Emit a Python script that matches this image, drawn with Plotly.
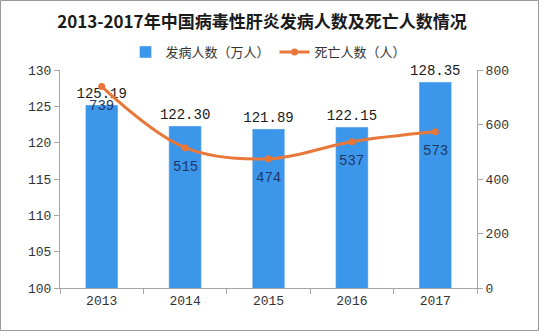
import plotly.graph_objects as go

years = ["2013", "2014", "2015", "2016", "2017"]
cases = [125.19, 122.30, 121.89, 122.15, 128.35]
deaths = [739, 515, 474, 537, 573]

W, H = 540, 332
ml, mr, mt, mb = 60, 63, 70, 44
pw, ph = W - ml - mr, H - mt - mb

num_font = "Liberation Mono, Noto Sans CJK SC"

fig = go.Figure()
fig.add_trace(go.Bar(
    x=years, y=cases, name="发病人数（万人）",
    marker=dict(color="#3C96EA"),
    width=0.39,
    text=[f"{v:.2f}" for v in cases], textposition="outside",
    constraintext="none",
    textfont=dict(family=num_font, size=14, color="#1a1a1a"),
    cliponaxis=False,
))
fig.add_trace(go.Scatter(
    x=years, y=deaths, name="死亡人数（人）", yaxis="y2",
    mode="lines+markers",
    line=dict(color="#E8773A", width=3, shape="spline"),
    marker=dict(color="#E8773A", size=7),
    cliponaxis=False,
))
for i, d in enumerate(deaths):
    fig.add_annotation(x=i, y=d, xref="x", yref="y2", text=str(d), showarrow=False,
                       yshift=-19, font=dict(family=num_font, size=14, color="#1F3767"))

fig.update_layout(
    width=W, height=H,
    margin=dict(l=ml, r=mr, t=mt, b=mb),
    paper_bgcolor="white", plot_bgcolor="white",
    font=dict(family="Noto Sans CJK SC", color="#333333", size=12),
    title=dict(text="<b>2013-2017年中国病毒性肝炎发病人数及死亡人数情况</b>",
               x=0.485, xanchor="center", y=0.935, yanchor="middle",
               font=dict(family="Noto Sans CJK SC", size=17, color="#1a1a1a")),
    legend=dict(orientation="h", x=0.5, xanchor="center", y=1.0 + 18 / ph, yanchor="middle",
                font=dict(family="Noto Sans CJK SC", size=13, color="#333333"),
                bgcolor="rgba(0,0,0,0)", itemwidth=30, tracegroupgap=0),
    showlegend=True,
    bargap=0.61,
    xaxis=dict(type="category", categoryorder="array", categoryarray=years,
               range=[-0.5, len(years) - 0.5],
               showline=True, linecolor="#A6A6A6", linewidth=1,
               ticks="outside", tickson="boundaries", ticklen=5, tickcolor="#A6A6A6",
               tickfont=dict(family=num_font, size=13, color="#333333"),
               showgrid=False, zeroline=False),
    yaxis=dict(range=[100, 130], dtick=5, showline=True, linecolor="#A6A6A6", linewidth=1,
               ticks="outside", ticklen=5, tickcolor="#A6A6A6",
               tickfont=dict(family=num_font, size=13, color="#333333"),
               showgrid=False, zeroline=False),
    yaxis2=dict(range=[0, 800], dtick=200, overlaying="y", side="right",
                showline=True, linecolor="#A6A6A6", linewidth=1,
                ticks="outside", ticklen=5, tickcolor="#A6A6A6",
                tickfont=dict(family=num_font, size=13, color="#333333"),
                showgrid=False, zeroline=False),
    shapes=[dict(type="rect", xref="paper", yref="paper",
                 x0=-(ml - 0.5) / pw, x1=1 + (mr - 1.5) / pw,
                 y0=-(mb - 1.5) / ph, y1=1 + (mt - 0.5) / ph,
                 line=dict(color="#9A9A9A", width=1), fillcolor="rgba(0,0,0,0)")],
)

fig.write_html("out.html")
